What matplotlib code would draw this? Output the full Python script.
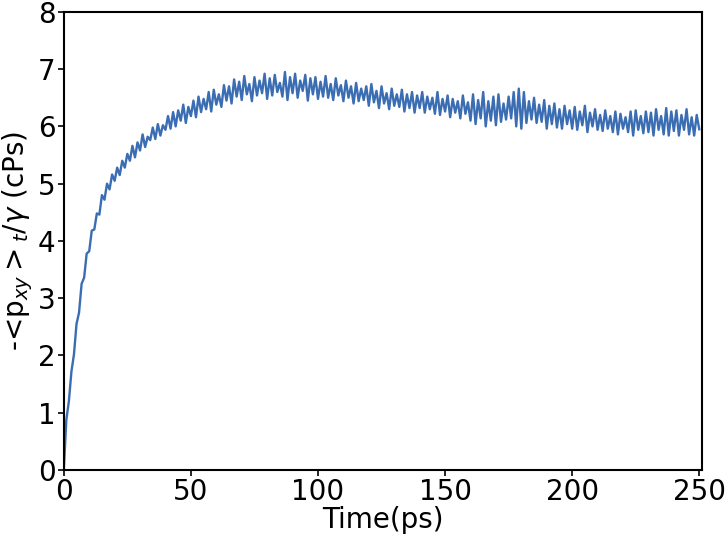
import numpy as np
import matplotlib
matplotlib.use('Agg')
import matplotlib.pyplot as plt

time_ps = np.arange(0, 251, 1)
visc = [
    0.00, 0.88, 1.20, 1.72, 2.02, 2.55, 2.75, 3.25, 3.36, 3.78,
    3.82, 4.18, 4.20, 4.48, 4.46, 4.80, 4.72, 5.00, 4.90, 5.16,
    5.05, 5.28, 5.15, 5.40, 5.28, 5.52, 5.40, 5.66, 5.46, 5.72,
    5.58, 5.86, 5.64, 5.82, 5.76, 5.98, 5.78, 6.04, 5.84, 6.02,
    5.94, 6.18, 5.96, 6.25, 6.00, 6.28, 6.10, 6.38, 6.06, 6.34,
    6.18, 6.45, 6.16, 6.52, 6.25, 6.48, 6.30, 6.60, 6.26, 6.64,
    6.38, 6.56, 6.34, 6.72, 6.45, 6.70, 6.40, 6.82, 6.52, 6.78,
    6.46, 6.88, 6.56, 6.74, 6.44, 6.86, 6.54, 6.80, 6.58, 6.92,
    6.48, 6.84, 6.54, 6.90, 6.60, 6.76, 6.52, 6.95, 6.46, 6.86,
    6.58, 6.92, 6.50, 6.80, 6.62, 6.90, 6.45, 6.84, 6.56, 6.86,
    6.48, 6.78, 6.52, 6.88, 6.50, 6.74, 6.46, 6.84, 6.54, 6.72,
    6.44, 6.80, 6.50, 6.70, 6.40, 6.76, 6.44, 6.66, 6.46, 6.70,
    6.36, 6.74, 6.42, 6.62, 6.32, 6.70, 6.40, 6.58, 6.30, 6.66,
    6.36, 6.56, 6.34, 6.64, 6.26, 6.56, 6.32, 6.60, 6.24, 6.54,
    6.32, 6.60, 6.24, 6.52, 6.30, 6.50, 6.22, 6.60, 6.20, 6.48,
    6.26, 6.54, 6.16, 6.48, 6.24, 6.44, 6.14, 6.54, 6.22, 6.42,
    6.10, 6.56, 6.04, 6.46, 6.14, 6.60, 6.00, 6.44, 6.10, 6.52,
    6.02, 6.56, 6.08, 6.40, 6.12, 6.52, 6.14, 6.60, 6.00, 6.66,
    5.96, 6.60, 6.06, 6.44, 6.12, 6.50, 6.06, 6.38, 6.08, 6.46,
    5.96, 6.36, 6.04, 6.40, 5.98, 6.30, 5.96, 6.36, 6.04, 6.28,
    5.96, 6.34, 5.94, 6.26, 6.02, 6.36, 5.90, 6.24, 6.00, 6.30,
    5.94, 6.20, 5.92, 6.28, 5.96, 6.18, 5.90, 6.26, 5.86, 6.22,
    5.96, 6.16, 5.90, 6.26, 5.84, 6.28, 5.94, 6.18, 5.88, 6.26,
    5.90, 6.24, 5.84, 6.30, 5.94, 6.18, 5.86, 6.32, 5.84, 6.26,
    5.92, 6.28, 5.84, 6.20, 5.94, 6.30, 5.86, 6.16, 5.84, 6.20,
    5.95,
]

fig = plt.figure(figsize=(7.25, 5.39), dpi=100)
ax = fig.add_axes([0.088, 0.128, 0.88, 0.85])
ax.plot(time_ps, visc, color='#3b6db3', linewidth=1.7)

ax.set_xlim(0, 251)
ax.set_ylim(0, 8)
ax.set_xticks([0, 50, 100, 150, 200, 250])
ax.set_yticks(range(0, 9))
ax.tick_params(labelsize=20, width=1.2, length=4, pad=2)
for s in ax.spines.values():
    s.set_linewidth(1.5)

ax.set_xlabel('Time(ps)', fontsize=20, labelpad=0)
ax.set_ylabel(r'-<p$_{xy}>_t/\gamma$ (cPs)', fontsize=20, labelpad=2)

fig.savefig('out.png', dpi=100)
